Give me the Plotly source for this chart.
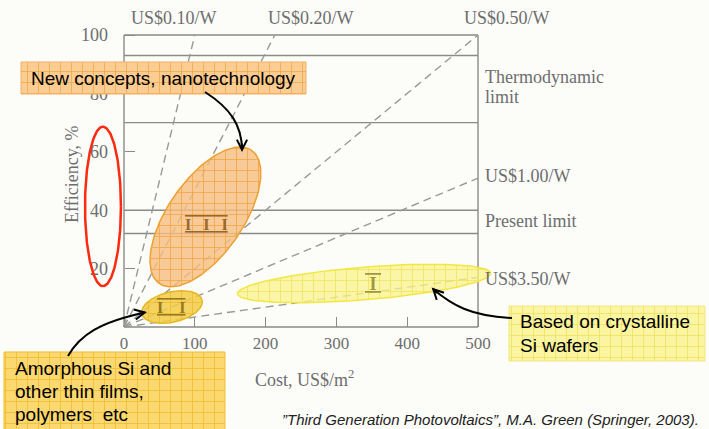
import numpy as np
import plotly.graph_objects as go

# ---------------- data ----------------
cost_ticks = [0, 100, 200, 300, 400, 500]          # US$/m2
eff_ticks = [20, 40, 60, 80, 100]                  # %
cost_max = 500
eff_max = 100

price_labels = ["US$0.10/W", "US$0.20/W", "US$0.50/W", "US$1.00/W", "US$3.50/W"]
price_end_cost = [100, 213, 500, 500, 500]
price_end_eff = [100, 100, 100, 51, 17]

thermo_limit = [93, 70]      # thermodynamic limit band (%)
present_limit = [40, 32]     # present limit band (%)

# generation regions: centre (cost, eff) and two conjugate semi-axis vectors (cost, eff)
region_names = ["III", "II", "I"]
region_center_cost = [115, 67.8, 339]
region_center_eff = [37.7, 6.85, 14.9]
region_u = [(65.1, 22.8), (42.5, 2.38), (178.8, 3.53)]
region_v = [(43.5, -7.3), (4.83, -5.07), (1.87, -5.57)]

# red highlight around the efficiency axis (cost, eff units)
red_center = (-29.7, 41.3)
red_semi = (25.4, 27.3)

# ---------------- layout geometry ----------------
W, H = 709, 429
PX_L, PX_R = 124, 478
PX_B, PX_T = 327, 35
sx = (PX_R - PX_L) / cost_max
sy = (PX_B - PX_T) / eff_max
x_range = [-PX_L / sx, (W - PX_L) / sx]
y_range = [(PX_B - H) / sy, PX_B / sy]


def P(px, py):
    """pixel position -> data position (for layout placement only)"""
    return (px - PX_L) / sx, (PX_B - py) / sy


GRAY_TXT = "#6e6e6e"
GRAY_LN = "#8a8a8a"
SERIF = "Liberation Serif, Times New Roman, serif"
SANS = "Liberation Sans, Arial, sans-serif"

fig = go.Figure()

# dashed cost-per-watt lines
for lab, ce, ee in zip(price_labels, price_end_cost, price_end_eff):
    fig.add_trace(go.Scatter(x=[0, ce], y=[0, ee], mode="lines",
                             line=dict(color="#999999", width=1.4, dash="8px,5px"),
                             hoverinfo="skip", showlegend=False))

# region ellipses
t = np.linspace(0, 2 * np.pi, 200)
region_style = [
    dict(bg="rgba(248,190,128,0.80)", fg="rgba(242,160,60,0.9)", edge="#eea030"),
    dict(bg="rgba(244,204,70,0.85)", fg="rgba(236,184,40,0.9)", edge="#e6b820"),
    dict(bg="rgba(250,244,140,0.75)", fg="rgba(236,222,80,0.8)", edge="#f2e640"),
]
for i in range(len(region_names)):
    ex = region_center_cost[i] + region_u[i][0] * np.cos(t) + region_v[i][0] * np.sin(t)
    ey = region_center_eff[i] + region_u[i][1] * np.cos(t) + region_v[i][1] * np.sin(t)
    st = region_style[i]
    fig.add_trace(go.Scatter(x=ex, y=ey, mode="lines", fill="toself",
                             line=dict(color=st["edge"], width=1.5),
                             fillcolor=st["bg"],
                             fillpattern=dict(shape="+", size=11, solidity=0.14,
                                              fgcolor=st["fg"], bgcolor=st["bg"],
                                              fillmode="replace"),
                             hoverinfo="skip", showlegend=False))

rx = red_center[0] + red_semi[0] * np.cos(t)
ry = red_center[1] + red_semi[1] * np.sin(t)
fig.add_trace(go.Scatter(x=rx, y=ry, mode="lines", line=dict(color="#ff2a10", width=2.5),
                         hoverinfo="skip", showlegend=False))

# callout boxes (pixel placement)
boxes = [
    dict(px=(21, 62, 306, 94), bg="#fccd92", fg="rgba(240,165,70,0.9)", edge="#f2b060"),
    dict(px=(4, 352, 225, 440), bg="#fcd870", fg="rgba(240,185,40,0.9)", edge="#eebe30"),
    dict(px=(509, 306, 705, 361), bg="#fbf4a0", fg="rgba(236,224,90,0.9)", edge="#f0e680"),
]
for b in boxes:
    x0, y0 = P(b["px"][0], b["px"][1])
    x1, y1 = P(b["px"][2], b["px"][3])
    fig.add_trace(go.Scatter(x=[x0, x1, x1, x0, x0], y=[y0, y0, y1, y1, y0], mode="lines",
                             fill="toself", line=dict(color=b["edge"], width=1),
                             fillcolor=b["bg"],
                             fillpattern=dict(shape="+", size=11, solidity=0.14,
                                              fgcolor=b["fg"], bgcolor=b["bg"],
                                              fillmode="replace"),
                             hoverinfo="skip", showlegend=False))

shapes = []
# frame
for (xa, ya, xb, yb) in [(0, 0, 0, eff_max), (0, 0, cost_max, 0),
                         (0, eff_max, cost_max, eff_max), (cost_max, 0, cost_max, eff_max)]:
    shapes.append(dict(type="line", x0=xa, y0=ya, x1=xb, y1=yb, xref="x", yref="y",
                       line=dict(color=GRAY_LN, width=1.4), layer="below"))
for lv in thermo_limit + present_limit:
    shapes.append(dict(type="line", x0=0, y0=lv, x1=cost_max, y1=lv, xref="x", yref="y",
                       line=dict(color=GRAY_LN, width=1.4), layer="below"))


def curve(p0, c1, c2, p1):
    pts = [P(*p) for p in (p0, c1, c2, p1)]
    return "M {:.3f},{:.3f} C {:.3f},{:.3f} {:.3f},{:.3f} {:.3f},{:.3f}".format(
        *[v for p in pts for v in p])


arrows = [
    ((205, 92), (230, 108), (242, 125), (242, 150), (0, -10)),
    ((68, 356), (80, 335), (100, 322), (145, 312.5), (-10, 2)),
    ((512, 318), (470, 316), (452, 305), (433, 289), (7, 7)),
]
annotations = []
for p0, c1, c2, p1, (ax, ay) in arrows:
    shapes.append(dict(type="path", path=curve(p0, c1, c2, p1), xref="x", yref="y",
                       line=dict(color="black", width=2), layer="above"))
    tx, ty = P(p1[0] - ax * 0.2, p1[1] - ay * 0.2)
    annotations.append(dict(x=tx, y=ty, xref="x", yref="y", ax=ax, ay=ay, text="",
                            showarrow=True, arrowhead=5, arrowsize=1, arrowwidth=2,
                            arrowcolor="black", standoff=0))


def txt(text, px, py, size, font=SERIF, color=GRAY_TXT, xanchor="center", **kw):
    x, y = P(px, py)
    d = dict(x=x, y=y, xref="x", yref="y", text=text, showarrow=False,
             font=dict(family=font, size=size, color=color),
             xanchor=xanchor, yanchor="middle")
    d.update(kw)
    annotations.append(d)


# cost-per-watt labels
txt(price_labels[0], 173.5, 18, 18)
txt(price_labels[1], 311, 18, 18)
txt(price_labels[2], 506.5, 18, 18)
txt(price_labels[3], 483, 176, 18, xanchor="left")
txt(price_labels[4], 483, 279, 18, xanchor="left")
txt("Thermodynamic", 483, 77, 18, xanchor="left")
txt("limit", 483, 97, 18, xanchor="left")
txt("Present limit", 483, 221, 18, xanchor="left")

# axis titles
txt("Cost, US$/m<sup>2</sup>", 253, 378, 18, xanchor="left")
txt("Efficiency, %", 72, 175, 18, textangle=-90)

# roman numerals
nb = "\u00a0"
for lab, px, py, size, col in [("I" + nb * 3 + "I" + nb * 3 + "I", 206, 224, 16, "#9a682c"),
                               ("I" + nb * 4 + "I", 171, 307, 16, "#967820"),
                               (nb + "I" + nb, 373, 284, 18, "#a09840")]:
    x, y = P(px, py)
    annotations.append(dict(x=x, y=y, xref="x", yref="y", text="<b>" + lab + "</b>",
                            showarrow=False, xanchor="center", yanchor="middle",
                            font=dict(family=SERIF, size=size, color=col,
                                      lineposition="under+over")))

# callout texts
txt("New concepts, nanotechnology", 163.5, 78.5, 19, font=SANS, color="black")
txt("Amorphous Si and", 13, 368.5, 19, font=SANS, color="black", xanchor="left")
txt("other thin films,", 13, 391, 19, font=SANS, color="black", xanchor="left")
txt("polymers  etc", 13, 414.5, 19, font=SANS, color="black", xanchor="left")
txt("Based on crystalline", 518, 321.5, 19, font=SANS, color="black", xanchor="left")
txt("Si wafers", 518, 345.5, 19, font=SANS, color="black", xanchor="left")

# source
x, y = P(490.5, 419)
annotations.append(dict(x=x, y=y, xref="x", yref="y", showarrow=False,
                        text="\u201dThird Generation Photovoltaics\u201d, M.A. Green (Springer, 2003).",
                        font=dict(family=SANS, size=15, color="#222222", style="italic"),
                        xanchor="center", yanchor="middle"))

fig.update_layout(
    width=W, height=H, margin=dict(l=0, r=0, t=0, b=0),
    paper_bgcolor="#fcfcf9", plot_bgcolor="#fcfcf9",
    showlegend=False, shapes=shapes, annotations=annotations,
    xaxis=dict(range=x_range, domain=[0, 1], anchor="free", position=(H - PX_B) / H,
               tickvals=cost_ticks, ticktext=[str(v) for v in cost_ticks],
               ticks="inside", ticklen=10, tickwidth=1.4, tickcolor=GRAY_LN,
               showgrid=False, zeroline=False, showline=False, automargin=False,
               tickfont=dict(family=SERIF, size=17, color=GRAY_TXT),
               ticklabelstandoff=4, layer="below traces", fixedrange=True),
    yaxis=dict(range=y_range, domain=[0, 1], anchor="free", position=PX_L / W,
               tickvals=eff_ticks, ticktext=[str(v) for v in eff_ticks],
               ticks="inside", ticklen=10, tickwidth=1.4, tickcolor=GRAY_LN,
               showgrid=False, zeroline=False, showline=False, automargin=False,
               tickfont=dict(family=SERIF, size=18, color=GRAY_TXT),
               ticklabelstandoff=16, layer="below traces", fixedrange=True),
)

fig.write_html("out.html", config={"displayModeBar": False},
               post_script="document.body.style.margin='0';document.body.style.overflow='hidden';")
